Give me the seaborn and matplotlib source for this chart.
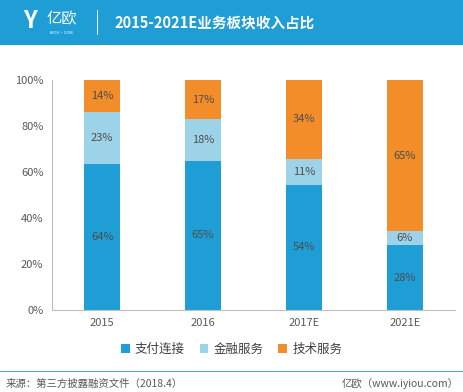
import numpy as np
import pandas as pd
import matplotlib
matplotlib.use("Agg")
import matplotlib.pyplot as plt
import seaborn as sns
from matplotlib.patches import Patch, Rectangle
from matplotlib.lines import Line2D

# data
years = ["2015", "2016", "2017E", "2021E"]
zhifu = [64, 65, 54, 28]
jinrong = [23, 18, 11, 6]
jishu = [14, 17, 34, 65]
series_names = ["支付连接", "金融服务", "技术服务"]
colors = ["#1F9ED6", "#9DD3E8", "#F28D2A"]

sns.set_theme(style="white")
plt.rcParams['font.family'] = ['Noto Sans CJK SC', 'DejaVu Sans']

vals = np.array([zhifu, jinrong, jishu], dtype=float)
shares = vals / vals.sum(axis=0) * 100
cum = np.cumsum(shares, axis=0)

fig = plt.figure(figsize=(4.63, 3.92), dpi=100)
ax = fig.add_axes([0.112, 0.209, 0.871, 0.587])

# draw cumulative from top to bottom so each layer covers the one above
for i in [2, 1, 0]:
    df = pd.DataFrame({"year": years, "v": cum[i]})
    sns.barplot(data=df, x="year", y="v", color=colors[i], width=0.36,
                saturation=1, ax=ax, edgecolor="none")

for j in range(len(years)):
    for i in range(3):
        mid = cum[i, j] - shares[i, j] / 2
        ax.text(j, mid, f"{int(vals[i, j])}%", ha="center", va="center",
                fontsize=8, color="#4D4D4D")

ax.set_ylim(0, 100)
ax.set_xlim(-0.5, 3.5)
ax.set_yticks([0, 20, 40, 60, 80, 100])
ax.set_yticklabels([f"{t}%" for t in [0, 20, 40, 60, 80, 100]])
ax.tick_params(axis="both", labelsize=8, colors="#595959", length=0, pad=6)
ax.set_xlabel("")
ax.set_ylabel("")
for s in ["top", "right"]:
    ax.spines[s].set_visible(False)
ax.spines["left"].set_color("#BFBFBF")
ax.spines["bottom"].set_color("#BFBFBF")
ax.spines["left"].set_linewidth(0.8)
ax.spines["bottom"].set_linewidth(0.8)

handles = [Patch(facecolor=c, edgecolor="none") for c in colors]
fig.legend(handles, series_names, loc="center", bbox_to_anchor=(0.5, 1 - 349 / 392),
           ncol=3, frameon=False, fontsize=9, handlelength=0.7, handleheight=0.7,
           handletextpad=0.4, columnspacing=1.2, labelcolor="#404040")

# header bar
fig.patches.append(Rectangle((0, 1 - 45 / 392), 1, 45 / 392, transform=fig.transFigure,
                             facecolor="#1F9ED6", edgecolor="none", zorder=0))
fig.text(0.133, 1 - 19 / 392, "亿欧", color="white", fontsize=11, ha="center", va="center")
fig.text(0.133, 1 - 33 / 392, "IYIOU·COM", color="white", fontsize=3, ha="center", va="center")
fig.text(0.065, 1 - 21 / 392, "Y", color="white", fontsize=17, ha="center", va="center",
         fontweight="bold")
fig.add_artist(Line2D([0.21, 0.21], [1 - 34 / 392, 1 - 10 / 392], transform=fig.transFigure,
                      color="white", lw=0.7))
fig.text(0.248, 1 - 22 / 392, "2015-2021E业务板块收入占比", color="white", fontsize=10.5,
         fontweight="bold", ha="left", va="center")

# footer
fig.add_artist(Line2D([0, 1], [1 - 371 / 392] * 2, transform=fig.transFigure,
                      color="#4BA9C8", lw=0.8))
fig.text(0.012, 1 - 384 / 392, "来源：第三方披露融资文件（2018.4）", color="#595959",
         fontsize=7.5, ha="left", va="center")
fig.text(0.99, 1 - 384 / 392, "亿欧（www.iyiou.com）", color="#595959",
         fontsize=7.5, ha="right", va="center")

fig.savefig("out.png", dpi=100)
